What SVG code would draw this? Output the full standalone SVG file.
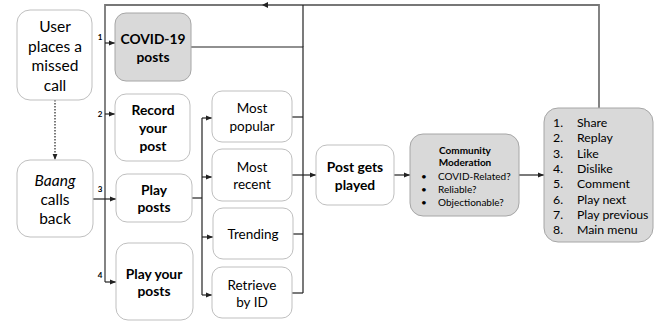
<svg xmlns="http://www.w3.org/2000/svg" width="659" height="324" viewBox="0 0 659 324">
<defs>
<style>
.box{fill:#fff;stroke:#bfbfbf;stroke-width:1}
.gray{fill:#d9d9d9;stroke:#a6a6a6;stroke-width:1}
text{font-family:Lato,"Liberation Sans",sans-serif;fill:#000;text-anchor:middle}
.big{font-size:15.5px}
.b{font-size:13.8px;font-weight:bold}
.m{font-size:13.5px}
.s{font-size:10px}
.sl{font-size:10px;text-anchor:start}
.sb{font-size:10px;font-weight:bold}
.l{font-size:12.3px;text-anchor:start}
.n{font-size:8px;font-weight:bold}
.c{fill:none;stroke:#222;stroke-width:1.2}
.top{fill:none;stroke:#777;stroke-width:1.8}
</style>
<marker id="a" viewBox="0 0 10 10" refX="10" refY="5" markerWidth="6" markerHeight="6" orient="auto" markerUnits="userSpaceOnUse">
<path d="M0,1 L10,5 L0,9 z" fill="#222"/>
</marker>
</defs>
<g id="connectors">
<path class="top" d="M303,5 H599 V108"/>
<path class="top" d="M303,5 H105 V282"/>
<path d="M268,2 L262,5 L268,8 z" fill="#222"/>
<path class="c" d="M55,100 V160" stroke-dasharray="1.5,1.5" marker-end="url(#a)"/>
<path class="c" d="M93,199 H105"/>
<path class="c" d="M105,43 H115" marker-end="url(#a)"/>
<path class="c" d="M105,114 H115" marker-end="url(#a)"/>
<path class="c" d="M105,199 H116" marker-end="url(#a)"/>
<path class="c" d="M105,282 H116" marker-end="url(#a)"/>
<path class="c" d="M191,47 H303 V293"/>
<path class="c" d="M303,5 V47"/>
<path class="c" d="M192,198 H202"/>
<path class="c" d="M202,118 V295"/>
<path class="c" d="M202,118 H212" marker-end="url(#a)"/>
<path class="c" d="M202,177 H212" marker-end="url(#a)"/>
<path class="c" d="M202,237 H213" marker-end="url(#a)"/>
<path class="c" d="M202,295 H212" marker-end="url(#a)"/>
<path class="c" d="M292,117 H303"/>
<path class="c" d="M292,175 H316" marker-end="url(#a)"/>
<path class="c" d="M293,234 H303"/>
<path class="c" d="M292,293 H303"/>
<path class="c" d="M394,175 H410" marker-end="url(#a)"/>
<path class="c" d="M519,175 H544" marker-end="url(#a)"/>
<text class="n" x="100" y="40">1</text>
<text class="n" x="100" y="117">2</text>
<text class="n" x="100" y="192">3</text>
<text class="n" x="100" y="278">4</text>
</g>
<g id="user">
<rect class="box" x="17" y="10" width="75" height="90" rx="13"/>
<text class="big" x="55" y="32">User</text>
<text class="big" x="55" y="52">places a</text>
<text class="big" x="55" y="71">missed</text>
<text class="big" x="55" y="91">call</text>
</g>
<g id="baang">
<rect class="box" x="17" y="160" width="76" height="77" rx="13"/>
<text class="big" x="55" y="186" font-style="italic">Baang</text>
<text class="big" x="55" y="205">calls</text>
<text class="big" x="55" y="224">back</text>
</g>
<g id="covid">
<rect class="gray" x="115" y="13" width="76" height="68" rx="11"/>
<text class="b" x="153" y="44">COVID-19</text>
<text class="b" x="153" y="62">posts</text>
</g>
<g id="record">
<rect class="box" x="115" y="94" width="75" height="67" rx="11"/>
<text class="b" x="153" y="115">Record</text>
<text class="b" x="153" y="133">your</text>
<text class="b" x="153" y="151">post</text>
</g>
<g id="play">
<rect class="box" x="116" y="174" width="76" height="48" rx="11"/>
<text class="b" x="154" y="195">Play</text>
<text class="b" x="154" y="212">posts</text>
</g>
<g id="playyour">
<rect class="box" x="116" y="243" width="77" height="77" rx="12"/>
<text class="b" x="154" y="279">Play your</text>
<text class="b" x="154" y="296">posts</text>
</g>
<g id="popular">
<rect class="box" x="212" y="91" width="80" height="51" rx="10"/>
<text class="m" x="252" y="113">Most</text>
<text class="m" x="252" y="131">popular</text>
</g>
<g id="recent">
<rect class="box" x="212" y="149" width="80" height="52" rx="10"/>
<text class="m" x="252" y="172">Most</text>
<text class="m" x="252" y="189">recent</text>
</g>
<g id="trending">
<rect class="box" x="213" y="208" width="80" height="51" rx="10"/>
<text class="m" x="253" y="239">Trending</text>
</g>
<g id="retrieve">
<rect class="box" x="212" y="267" width="80" height="51" rx="10"/>
<text class="m" x="252" y="290">Retrieve</text>
<text class="m" x="252" y="307">by ID</text>
</g>
<g id="postplayed">
<rect class="box" x="316" y="145" width="78" height="60" rx="11"/>
<text class="b" x="355" y="172">Post gets</text>
<text class="b" x="355" y="190">played</text>
</g>
<g id="moderation">
<rect class="gray" x="410" y="134" width="109" height="82" rx="13"/>
<text class="sb" x="465" y="154">Community</text>
<text class="sb" x="465" y="166">Moderation</text>
<text class="s" x="424" y="180">•</text>
<text class="s" x="424" y="193">•</text>
<text class="s" x="424" y="206">•</text>
<text class="sl" x="438" y="180">COVID-Related?</text>
<text class="sl" x="438" y="193">Reliable?</text>
<text class="sl" x="438" y="206">Objectionable?</text>
</g>
<g id="actions">
<rect class="gray" x="544" y="108" width="109" height="134" rx="14"/>
<text class="l" x="553" y="127">1.</text><text class="l" x="577" y="127">Share</text>
<text class="l" x="553" y="142">2.</text><text class="l" x="577" y="142">Replay</text>
<text class="l" x="553" y="158">3.</text><text class="l" x="577" y="158">Like</text>
<text class="l" x="553" y="173">4.</text><text class="l" x="577" y="173">Dislike</text>
<text class="l" x="553" y="188">5.</text><text class="l" x="577" y="188">Comment</text>
<text class="l" x="553" y="204">6.</text><text class="l" x="577" y="204">Play next</text>
<text class="l" x="553" y="219">7.</text><text class="l" x="577" y="219">Play previous</text>
<text class="l" x="553" y="234">8.</text><text class="l" x="577" y="234">Main menu</text>
</g>
</svg>
